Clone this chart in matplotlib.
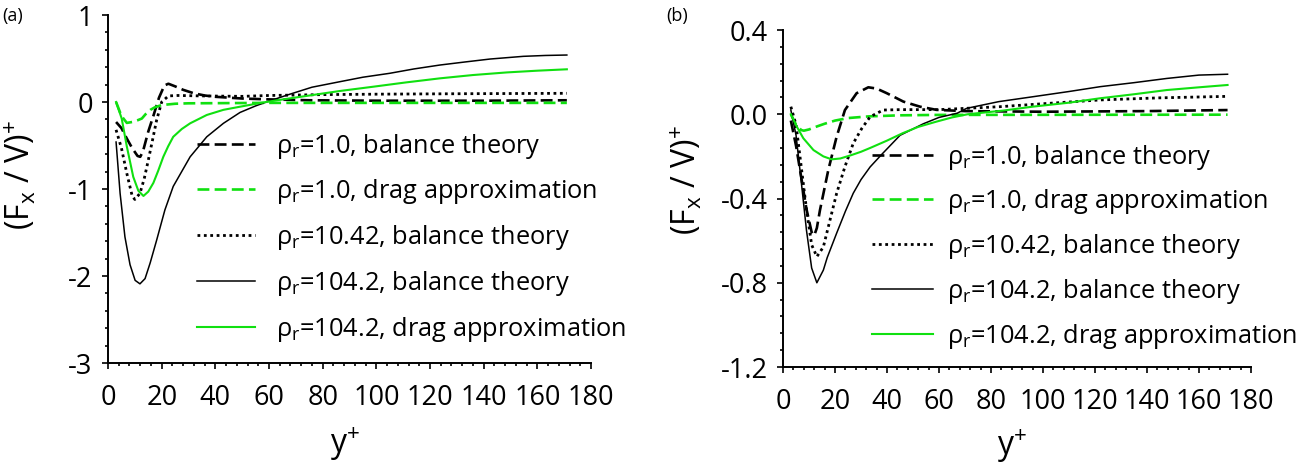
import matplotlib
matplotlib.use('Agg')
import matplotlib.pyplot as plt
from matplotlib.ticker import MultipleLocator, FormatStrFormatter

plt.rcParams['font.family'] = ['Open Sans', 'DejaVu Sans']
plt.rcParams['mathtext.fontset'] = 'custom'
plt.rcParams['mathtext.rm'] = 'Open Sans'
plt.rcParams['axes.unicode_minus'] = False

GREEN = '#10e010'

labels = ['ρ$_\\mathregular{r}$=1.0, balance theory',
          'ρ$_\\mathregular{r}$=1.0, drag approximation',
          'ρ$_\\mathregular{r}$=10.42, balance theory',
          'ρ$_\\mathregular{r}$=104.2, balance theory',
          'ρ$_\\mathregular{r}$=104.2, drag approximation']

# ---- panel (a) ----
a_bal1_x = [3, 5, 7, 9, 11, 12, 13, 15, 17, 19, 21, 22.5, 25, 28, 32, 36, 40, 45, 50, 60, 75, 100, 140, 171]
a_bal1_y = [-0.23, -0.30, -0.42, -0.53, -0.62, -0.63, -0.57, -0.34, -0.15, 0.05, 0.19, 0.21, 0.18, 0.14,
            0.10, 0.075, 0.06, 0.05, 0.04, 0.03, 0.02, 0.015, 0.015, 0.02]
a_drag1_x = [3, 5, 7, 9, 11, 12.6, 14, 15.8, 17.5, 20, 25, 30, 60, 171]
a_drag1_y = [0.0, -0.16, -0.24, -0.23, -0.21, -0.19, -0.14, -0.09, -0.06, -0.035, -0.02, -0.015, -0.01, -0.01]
a_bal10_x = [3, 5, 7, 9, 10, 11.9, 13.5, 15, 16.5, 18.1, 20, 22.5, 26, 35, 50, 60, 80, 100, 130, 171]
a_bal10_y = [-0.32, -0.53, -0.82, -1.08, -1.12, -1.05, -0.88, -0.67, -0.45, -0.21, 0.0, 0.07, 0.075, 0.07,
             0.065, 0.075, 0.085, 0.09, 0.095, 0.10]
a_bal104_x = [3, 4.5, 6.3, 8.2, 10.1, 11.9, 13.8, 15.7, 18.1, 21.2, 24.3, 30.6, 36.8, 43, 49.2, 55, 59,
              67.8, 76, 86.5, 95, 105, 114, 123.7, 133, 142.4, 154.8, 163, 171]
a_bal104_y = [-0.46, -1.05, -1.55, -1.87, -2.05, -2.09, -2.03, -1.85, -1.59, -1.24, -0.97, -0.63, -0.40,
              -0.245, -0.12, -0.045, 0.0, 0.09, 0.17, 0.234, 0.285, 0.33, 0.38, 0.425, 0.46, 0.494, 0.525,
              0.535, 0.54]
a_drag104_x = [3, 5.1, 7, 9.4, 11.3, 13.2, 15, 16.9, 18.7, 20.6, 22.4, 24.3, 27.5, 30.6, 36.8, 43, 49.2,
               57, 63, 74, 86, 98.9, 111, 123.7, 136, 148.6, 160, 171]
a_drag104_y = [0.0, -0.19, -0.51, -0.86, -1.02, -1.08, -1.03, -0.93, -0.79, -0.63, -0.51, -0.40, -0.31,
               -0.245, -0.149, -0.09, -0.054, -0.01, 0.02, 0.07, 0.125, 0.176, 0.225, 0.272, 0.31, 0.34,
               0.36, 0.376]

# ---- panel (b) ----
b_bal1_x = [3, 5, 7, 9, 11, 12, 13, 14.2, 17.4, 20.6, 23.8, 28.3, 32.8, 36, 39.9, 46.3, 52.7, 59, 70,
            100, 140, 171]
b_bal1_y = [-0.03, -0.15, -0.30, -0.45, -0.56, -0.575, -0.54, -0.455, -0.265, -0.107, 0.02, 0.10, 0.128,
            0.122, 0.10, 0.06, 0.036, 0.021, 0.015, 0.012, 0.015, 0.02]
b_drag1_x = [3, 5, 7, 8, 10, 13, 16, 20, 25, 33, 45, 60, 171]
b_drag1_y = [0.0, -0.05, -0.075, -0.078, -0.072, -0.058, -0.045, -0.03, -0.018, -0.01, -0.005, -0.003, -0.002]
b_bal10_x = [3, 5, 7, 9, 11, 13, 15.5, 18.1, 20.6, 23.8, 27, 30.3, 33.5, 38.5, 45, 60, 83.5, 100, 122,
             145, 171]
b_bal10_y = [0.036, -0.05, -0.25, -0.45, -0.62, -0.676, -0.63, -0.50, -0.376, -0.249, -0.138, -0.067,
             -0.012, 0.02, 0.022, 0.022, 0.036, 0.05, 0.068, 0.078, 0.085]
b_bal104_x = [3, 5, 7, 9, 11, 13, 15.5, 17, 20.6, 24, 27, 30, 33.5, 38, 45, 54, 60, 67, 70.6, 83, 96,
              110, 122, 135, 147.6, 160, 171]
b_bal104_y = [0.02, -0.10, -0.32, -0.55, -0.73, -0.80, -0.74, -0.68, -0.565, -0.46, -0.375, -0.31, -0.25,
              -0.19, -0.10, -0.045, -0.015, 0.005, 0.028, 0.06, 0.083, 0.108, 0.131, 0.15, 0.17, 0.186, 0.19]
b_drag104_x = [3, 5.3, 7.8, 11.7, 15.5, 18.7, 22, 26, 30, 33.5, 40, 46, 52, 59, 65, 71, 85, 96, 110,
               122, 135, 147.6, 160, 171]
b_drag104_y = [0.0, -0.059, -0.114, -0.17, -0.20, -0.214, -0.21, -0.195, -0.178, -0.16, -0.125, -0.09,
               -0.06, -0.035, -0.015, 0.0, 0.018, 0.036, 0.055, 0.076, 0.095, 0.115, 0.128, 0.139]

a_yticks = [-3, -2, -1, 0, 1]
b_yticks = [-1.2, -0.8, -0.4, 0.0, 0.4]
xticks = [0, 20, 40, 60, 80, 100, 120, 140, 160, 180]


def draw_panel(ax, series):
    styles = [dict(color='k', lw=1.9, dashes=(4.5, 2)),
              dict(color=GREEN, lw=1.9, dashes=(4.5, 2)),
              dict(color='k', lw=2.0, dashes=(1, 1.3)),
              dict(color='k', lw=1.1),
              dict(color=GREEN, lw=1.5)]
    for (xs, ys), st, lab in zip(series, styles, labels):
        ax.plot(xs, ys, label=lab, **st)
    for side in ['top', 'right']:
        ax.spines[side].set_visible(False)
    for side in ['left', 'bottom']:
        ax.spines[side].set_linewidth(1.4)
    ax.set_xlim(0, 180)
    ax.set_xticks(xticks)
    ax.xaxis.set_minor_locator(MultipleLocator(4))
    ax.tick_params(which='both', direction='out', width=1.2, labelsize=19.5)
    ax.tick_params(which='major', length=4)
    ax.tick_params(which='minor', length=2.5)
    ax.tick_params(axis='x', pad=11)
    ax.tick_params(axis='y', pad=7)
    ax.set_xlabel('y$^\\mathregular{+}$', fontsize=23)
    ax.set_ylabel('(F$_\\mathregular{x}$ / V)$^\\mathregular{+}$', fontsize=23)


fig = plt.figure(figsize=(13.11, 4.66), dpi=100)
ax_a = fig.add_axes([0.0824, 0.221, 0.3684, 0.7468])
ax_b = fig.add_axes([0.5973, 0.2124, 0.3569, 0.7232])

draw_panel(ax_a, [(a_bal1_x, a_bal1_y), (a_drag1_x, a_drag1_y), (a_bal10_x, a_bal10_y),
                  (a_bal104_x, a_bal104_y), (a_drag104_x, a_drag104_y)])
ax_a.set_ylim(-3, 1)
ax_a.set_yticks(a_yticks)
ax_a.yaxis.set_minor_locator(MultipleLocator(0.2))
ax_a.yaxis.set_label_coords(-0.145, 0.54)
ax_a.xaxis.set_label_coords(0.49, -0.175)
ax_a.legend(loc='upper left', bbox_to_anchor=(0.185, 0.665), frameon=False, fontsize=18.3,
            handlelength=2.25, handletextpad=0.85, labelspacing=0.66, borderpad=0, borderaxespad=0)

draw_panel(ax_b, [(b_bal1_x, b_bal1_y), (b_drag1_x, b_drag1_y), (b_bal10_x, b_bal10_y),
                  (b_bal104_x, b_bal104_y), (b_drag104_x, b_drag104_y)])
ax_b.set_ylim(-1.2, 0.4)
ax_b.set_yticks(b_yticks)
ax_b.yaxis.set_major_formatter(FormatStrFormatter('%.1f'))
ax_b.yaxis.set_minor_locator(MultipleLocator(0.08))
ax_b.yaxis.set_label_coords(-0.169, 0.555)
ax_b.xaxis.set_label_coords(0.49, -0.175)
ax_b.legend(loc='upper left', bbox_to_anchor=(0.19, 0.666), frameon=False, fontsize=18.3,
            handlelength=2.4, handletextpad=0.55, labelspacing=0.62, borderpad=0, borderaxespad=0)

fig.text(0.002, 0.985, '(a)', fontsize=13, va='top', ha='left')
fig.text(0.508, 0.985, '(b)', fontsize=13, va='top', ha='left')

fig.savefig('out.png', dpi=100)
